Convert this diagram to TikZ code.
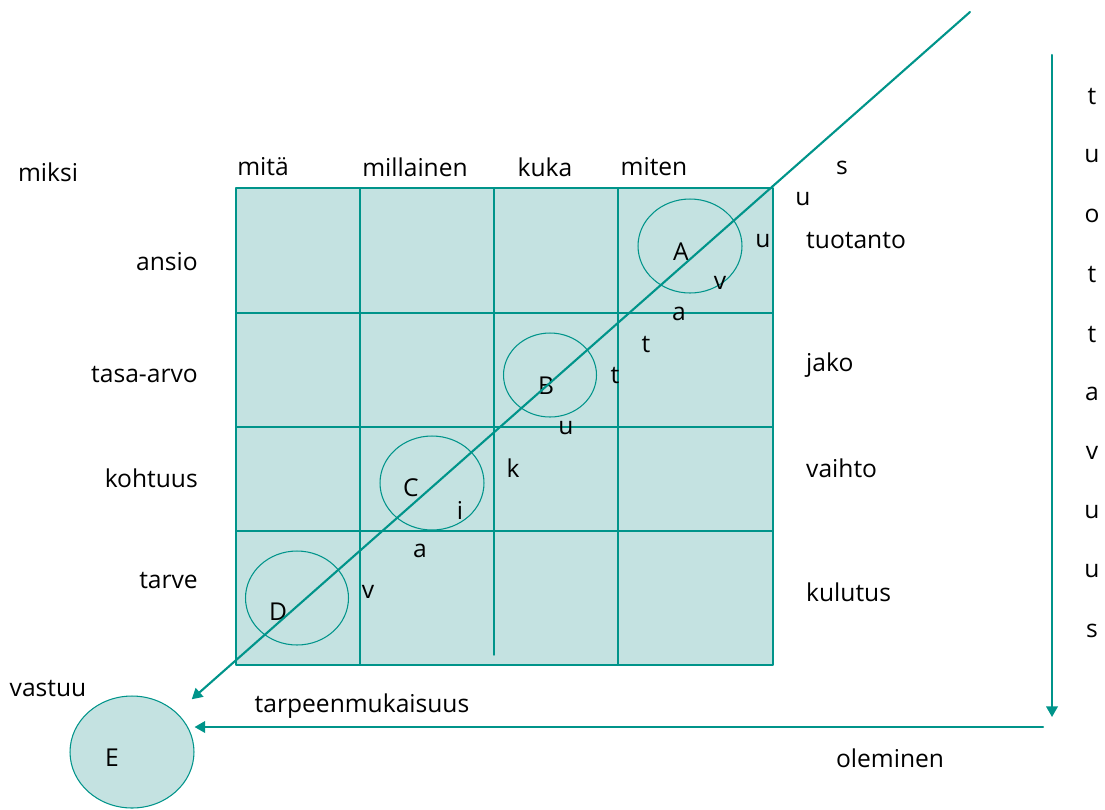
\documentclass[tikz,border=0pt]{standalone}
\usepackage{fontspec}
\setmainfont{Open Sans}
\usetikzlibrary{arrows.meta,shapes.geometric}

\definecolor{tealline}{RGB}{0,148,138}
\definecolor{tealfill}{RGB}{196,226,225}

\begin{document}
\begin{tikzpicture}[
						x=0.02cm, y=-0.02cm,
						every node/.style={font=\fontsize{14}{16}\selectfont},
						line cap=round,
						line join=round,
						gridline/.style={draw=tealline, line width=0.75pt},
						ring/.style={ellipse, draw=tealline, line width=0.6pt, inner sep=0pt},
						flow/.style={draw=tealline, line width=1.2pt, -{Triangle[length=6pt, width=6.5pt]}}
						]
						
						% Frame
						\useasboundingbox (0,0) rectangle (1105,809);
						
						% Grid
						\fill[tealfill] (236,188) rectangle (773,665);
						\draw[gridline] (236,188) rectangle (773,665);
						\draw[gridline] (360,188) -- (360,665);
						\draw[gridline] (494,188) -- (494,655);
						\draw[gridline] (618,188) -- (618,665);
						\draw[gridline] (236,313) -- (773,313);
						\draw[gridline] (236,427) -- (773,427);
						\draw[gridline] (236,531) -- (773,531);
						
						% Rings
						\node[ring, minimum width=2.08cm, minimum height=1.88cm] (ringA) at (690,246) {};
						\node[ring, minimum width=1.86cm, minimum height=1.68cm] (ringB) at (550,375) {};
						\node[ring, minimum width=2.08cm, minimum height=1.88cm] (ringC) at (432,483) {};
						\node[ring, minimum width=2.06cm, minimum height=1.88cm] (ringD) at (297,598) {};
						\node[ring, fill=tealfill, minimum width=2.48cm, minimum height=2.24cm] (E) at (132,752) {};
						
						\node (labA) at (681,252) {A};
						\node (labB) at (546,386) {B};
						\node (labC) at (411,488) {C};
						\node (labD) at (278,612) {D};
						\node (labE) at (112,758) {E};
						
						% Arrows
						\coordinate (top) at (970,12);
						\coordinate (vtop) at (1052,55);
						\coordinate (vend) at (1052,717);
						\coordinate (hstart) at (1043,727);
						\draw[flow, shorten >=0.4cm] (top) -- (E);
						\draw[flow] (vtop) -- (vend);
						\draw[flow] (hstart) -- (hstart -| E.east);
						
						% Column heads
						\node (miksi) at (48,172) {miksi};
						\node (mita) at (263,167) {mitä};
						\node (millainen) at (415,167) {millainen};
						\node (kuka) at (545,167) {kuka};
						\node (miten) at (654,167) {miten};
						
						% Row heads
						\node[anchor=east] (ansio) at (204,262) {ansio};
						\node[anchor=east] (tasa) at (204,375) {tasa-arvo};
						\node[anchor=east] (kohtuus) at (204,478) {kohtuus};
						\node[anchor=east] (tarve) at (204,580) {tarve};
						
						\node[anchor=west] (tuotanto) at (800,241) {tuotanto};
						\node[anchor=west] (jako) at (800,365) {jako};
						\node[anchor=west] (vaihto) at (800,468) {vaihto};
						\node[anchor=west] (kulutus) at (800,592) {kulutus};
						
						\node (vastuu) at (48,688) {vastuu};
						\node (tarpeen) at (362,706) {tarpeenmukaisuus};
						\node (oleminen) at (890,758) {oleminen};
						
						% Diagonal word
						\node (d1) at (368,592) {v};
						\node (d2) at (420,551) {a};
						\node (d3) at (460,510) {i};
						\node (d4) at (513,468) {k};
						\node (d5) at (566,428) {u};
						\node (d6) at (615,376) {t};
						\node (d7) at (646,345) {t};
						\node (d8) at (679,314) {a};
						\node (d9) at (720,283) {v};
						\node (d10) at (763,241) {u};
						\node (d11) at (803,199) {u};
						\node (d12) at (842,168) {s};
						
						% Vertical word
						\foreach \ch [count=\i from 0] in {t,u,o,t,t,a,v,u,u,s}
							\node (w\i) at (1092,97+59.3*\i) {\ch};
						
					\end{tikzpicture}
\end{document}
